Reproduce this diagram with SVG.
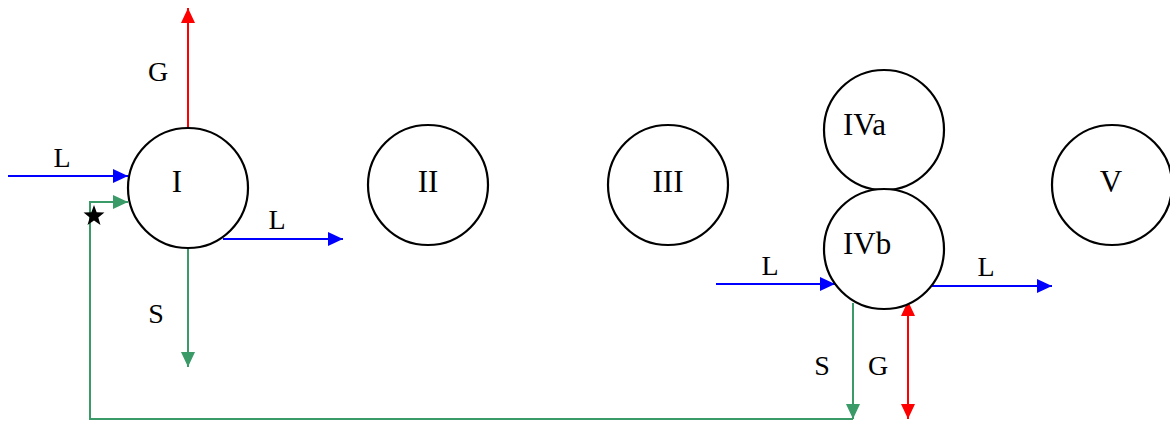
<svg xmlns="http://www.w3.org/2000/svg" width="1170" height="421" viewBox="0 0 1170 421">
<style>
.node{fill:#fff;stroke:#000;stroke-width:2.2}
.nl{font-family:"Liberation Serif","Times New Roman",serif;font-size:31px;fill:#000}
.al{font-family:"Liberation Serif","Times New Roman",serif;font-size:28px;fill:#000;text-anchor:middle}
.b{stroke:#0000ff;stroke-width:2;fill:none}
.r{stroke:#ff0000;stroke-width:2;fill:none}
.g{stroke:#3a9a68;stroke-width:2;fill:none}
</style>
<defs>
<marker id="ab" viewBox="0 0 15 14" markerWidth="15" markerHeight="14" refX="15" refY="7" orient="auto" markerUnits="userSpaceOnUse"><path d="M0,0L15,7L0,14z" fill="#0000ff"/></marker>
<marker id="ar" viewBox="0 0 15 14" markerWidth="15" markerHeight="14" refX="15" refY="7" orient="auto-start-reverse" markerUnits="userSpaceOnUse"><path d="M0,0L15,7L0,14z" fill="#ff0000"/></marker>
<marker id="ag" viewBox="0 0 15 14" markerWidth="15" markerHeight="14" refX="15" refY="7" orient="auto" markerUnits="userSpaceOnUse"><path d="M0,0L15,7L0,14z" fill="#3a9a68"/></marker>
</defs>
<g id="connectors">
<line class="r" x1="188" y1="128" x2="188" y2="8" marker-end="url(#ar)"/>
<line class="b" x1="8" y1="176" x2="128" y2="176" marker-end="url(#ab)"/>
<polyline class="g" points="853,419 90,419 90,202 128,202" marker-end="url(#ag)"/>
<line class="b" x1="223" y1="239" x2="343" y2="239" marker-end="url(#ab)"/>
<line class="g" x1="188" y1="248" x2="188" y2="367" marker-end="url(#ag)"/>
<line class="b" x1="716" y1="284" x2="835" y2="284" marker-end="url(#ab)"/>
<line class="b" x1="931" y1="286" x2="1052" y2="286" marker-end="url(#ab)"/>
<line class="g" x1="853" y1="303" x2="853" y2="419" marker-end="url(#ag)"/>
<line class="r" x1="908" y1="301" x2="908" y2="419" marker-start="url(#ar)" marker-end="url(#ar)"/>
<polygon points="0,-11 2.65,-3.64 10.46,-3.4 4.28,1.39 6.47,8.9 0,4.5 -6.47,8.9 -4.28,1.39 -10.46,-3.4 -2.65,-3.64" transform="translate(94,216)" fill="#000"/>
<text class="al" x="158" y="81">G</text>
<text class="al" x="62" y="167">L</text>
<text class="al" x="277" y="229">L</text>
<text class="al" x="156" y="323">S</text>
<text class="al" x="770" y="275">L</text>
<text class="al" x="986" y="276">L</text>
<text class="al" x="822" y="375">S</text>
<text class="al" x="878" y="375">G</text>
</g>
<g id="node-I"><circle class="node" cx="188" cy="188" r="60"/><text class="nl" x="177" y="192" text-anchor="middle">I</text></g>
<g id="node-II"><circle class="node" cx="428" cy="185" r="60"/><text class="nl" x="428" y="192" text-anchor="middle">II</text></g>
<g id="node-III"><circle class="node" cx="668" cy="185" r="60"/><text class="nl" x="668" y="192" text-anchor="middle">III</text></g>
<g id="node-IVa"><circle class="node" cx="884" cy="130" r="60"/><text class="nl" x="843" y="135">IVa</text></g>
<g id="node-IVb"><circle class="node" cx="884" cy="249" r="60"/><text class="nl" x="843" y="254">IVb</text></g>
<g id="node-V"><circle class="node" cx="1112" cy="185" r="60"/><text class="nl" x="1111" y="192" text-anchor="middle">V</text></g>
</svg>
